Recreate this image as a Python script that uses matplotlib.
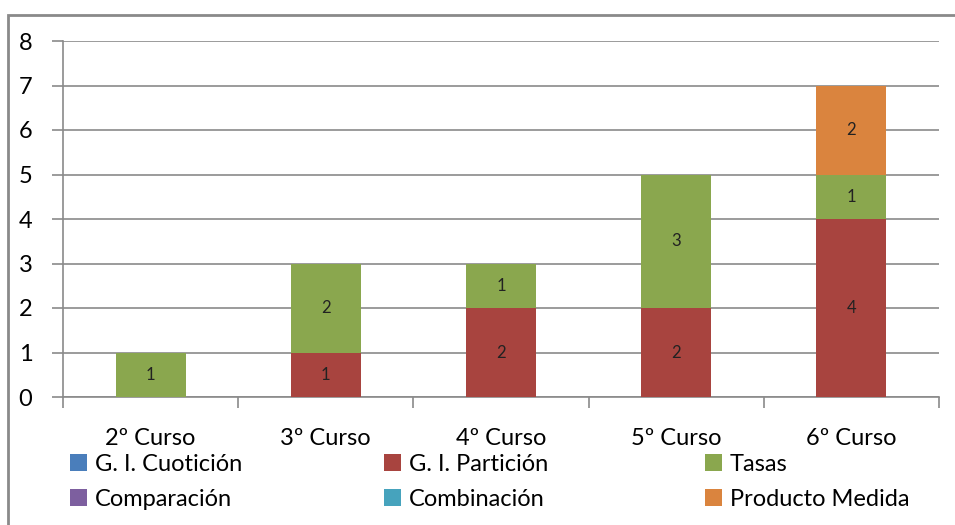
import matplotlib.pyplot as plt
from matplotlib.patches import Rectangle, Patch
import numpy as np

cursos = ['2º Curso', '3º Curso', '4º Curso', '5º Curso', '6º Curso']
cuoticion = [0, 0, 0, 0, 0]
particion = [0, 1, 2, 2, 4]
tasas = [1, 2, 1, 3, 1]
comparacion = [0, 0, 0, 0, 0]
combinacion = [0, 0, 0, 0, 0]
producto = [0, 0, 0, 0, 2]

series = [
    ('G. I. Cuotición', cuoticion, '#4A7EBB'),
    ('G. I. Partición', particion, '#A8443F'),
    ('Tasas', tasas, '#8AA74E'),
    ('Comparación', comparacion, '#7D5F9F'),
    ('Combinación', combinacion, '#46A3BD'),
    ('Producto Medida', producto, '#DA843E'),
]

plt.rcParams['font.family'] = ['Lato', 'DejaVu Sans']
W, H = 955, 525
fig = plt.figure(figsize=(W / 100, H / 100), dpi=100)
ax = fig.add_axes([63 / W, 1 - 397 / H, 876 / W, 356 / H])

x = np.arange(len(cursos))
bottom = np.zeros(len(cursos))
for name, vals, col in series:
    vals = np.array(vals, dtype=float)
    ax.bar(x, vals, width=0.4, bottom=bottom, color=col, zorder=3)
    for xi, b, v in zip(x, bottom, vals):
        if v > 0:
            ax.text(xi, b + v / 2, f'{int(v)}', ha='center', va='center',
                    fontsize=12, color='#222222', zorder=4)
    bottom += vals

ax.set_xlim(-0.5, len(cursos) - 0.5)
ax.set_ylim(0, 8)
ax.set_yticks(range(0, 9))
ax.yaxis.grid(True, color='#8a8a8a', linewidth=1.2, zorder=0)
for s in ['top', 'right']:
    ax.spines[s].set_visible(False)
for s in ['left', 'bottom']:
    ax.spines[s].set_color('#8a8a8a')
    ax.spines[s].set_linewidth(1.2)
ax.tick_params(axis='y', length=8, color='#8a8a8a', width=1.2, labelsize=17, pad=14)
ax.set_xticks(np.arange(-0.5, len(cursos), 1.0))
ax.set_xticklabels([])
ax.tick_params(axis='x', length=8, color='#8a8a8a', width=1.2)
ax.set_xticks(x, minor=True)
ax.set_xticklabels(cursos, minor=True)
ax.tick_params(axis='x', which='minor', length=0, labelsize=17, pad=22)

# legend, three columns of two rows
cols = [[0, 3], [1, 4], [2, 5]]
xs = [65, 379, 700]
for cx, idx in zip(xs, cols):
    handles = [Patch(facecolor=series[i][2]) for i in idx]
    labels = [series[i][0] for i in idx]
    fig.legend(handles, labels, loc='upper left', bbox_to_anchor=(cx / W, 1 - 449 / H),
               frameon=False, fontsize=17, handlelength=0.75, handleheight=0.75,
               handletextpad=0.3, labelspacing=0.6, borderaxespad=0, borderpad=0.2)

fig.patches.append(Rectangle((8 / W, -0.1), 1.1, 1 - 15 / H + 0.1, transform=fig.transFigure,
                             fill=False, edgecolor='#8a8a8a', linewidth=2))

fig.savefig('out.png', dpi=100)
